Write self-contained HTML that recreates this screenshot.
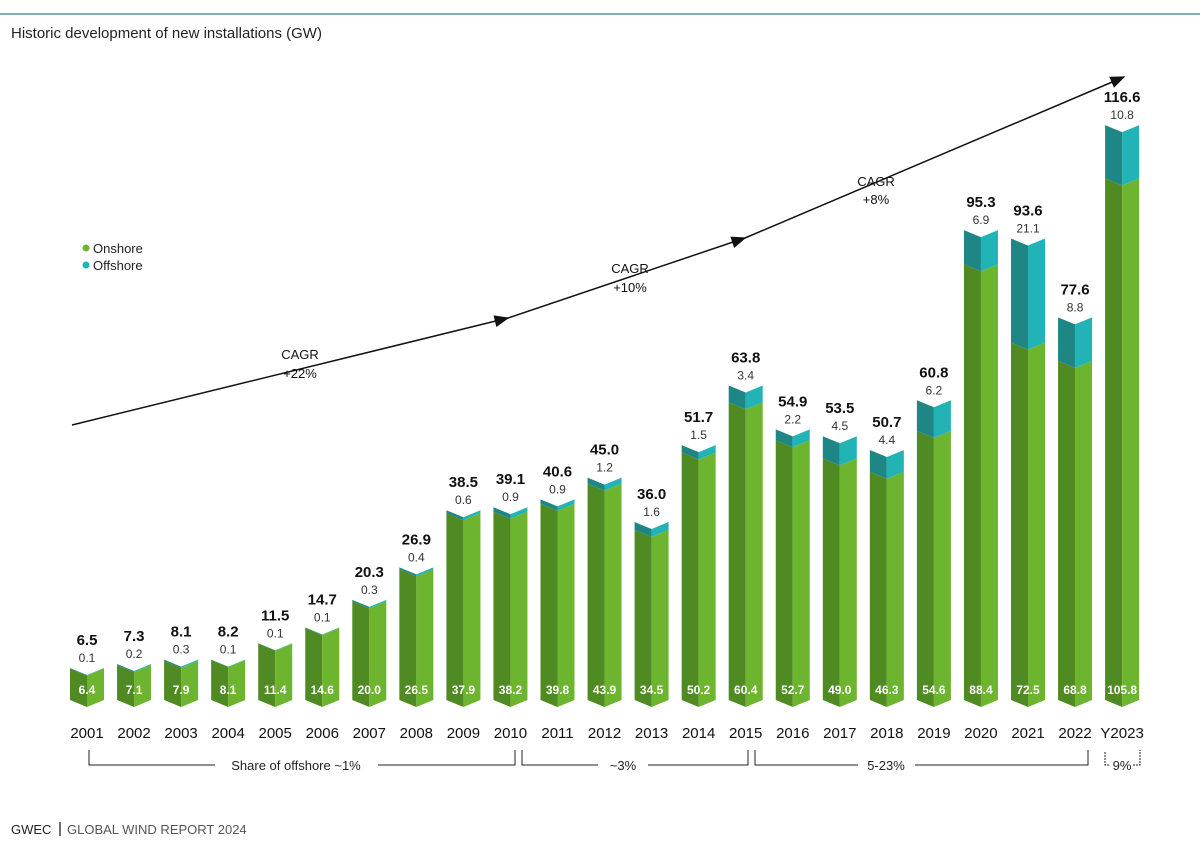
<!DOCTYPE html>
<html><head><meta charset="utf-8"><style>
body{margin:0;background:#fff;font-family:"Liberation Sans",sans-serif;}
svg text{font-family:"Liberation Sans",sans-serif;}
</style></head><body>
<svg width="1200" height="849" viewBox="0 0 1200 849">
<line x1="0" y1="14" x2="1200" y2="14" stroke="#3b7f86" stroke-width="1.2"/>
<text x="11" y="38" font-size="15" fill="#222">Historic development of new installations (GW)</text>
<g>
<circle cx="86" cy="248" r="3.5" fill="#6db42f"/>
<text x="93" y="253" font-size="13" fill="#222">Onshore</text>
<circle cx="86" cy="265" r="3.5" fill="#22b2b5"/>
<text x="93" y="270" font-size="13" fill="#222">Offshore</text>
</g>
<defs><marker id="ah" markerWidth="10" markerHeight="8" refX="9" refY="4" orient="auto"><path d="M0,0 L10,4 L0,8 z" fill="#111"/></marker></defs>
<g>
<line x1="72" y1="425" x2="508" y2="318" stroke="#111" stroke-width="1.5" marker-end="url(#ah)"/>
<line x1="508" y1="318" x2="745" y2="238" stroke="#111" stroke-width="1.5" marker-end="url(#ah)"/>
<line x1="745" y1="238" x2="1124" y2="77" stroke="#111" stroke-width="1.5" marker-end="url(#ah)"/>
<text x="300" y="359" font-size="13" text-anchor="middle" fill="#111">CAGR</text>
<text x="300" y="378" font-size="13" text-anchor="middle" fill="#111">+22%</text>
<text x="630" y="273" font-size="13" text-anchor="middle" fill="#111">CAGR</text>
<text x="630" y="292" font-size="13" text-anchor="middle" fill="#111">+10%</text>
<text x="876" y="186" font-size="13" text-anchor="middle" fill="#111">CAGR</text>
<text x="876" y="204" font-size="13" text-anchor="middle" fill="#111">+8%</text>
</g>
<g id="bars"></g>
<g stroke="#222" stroke-width="1" fill="none">
<path d="M89,750 V765 H215 M378,765 H515 V750"/>
<path d="M522,750 V765 H598 M648,765 H748 V750"/>
<path d="M755,750 V765 H858 M915,765 H1088 V750"/>
<path d="M1105,752 V765 H1110 M1133,765 H1140 V750" stroke-dasharray="2,1"/>
</g>
<text x="296" y="770" font-size="13" text-anchor="middle" fill="#222">Share of offshore ~1%</text>
<text x="623" y="770" font-size="13" text-anchor="middle" fill="#222">~3%</text>
<text x="886" y="770" font-size="13" text-anchor="middle" fill="#222">5-23%</text>
<text x="1122" y="770" font-size="13" text-anchor="middle" fill="#222">9%</text>
<text x="11" y="834" font-size="13" fill="#222">GWEC</text>
<line x1="60" y1="822" x2="60" y2="836" stroke="#222" stroke-width="1.3"/>
<text x="67" y="834" font-size="13" fill="#555">GLOBAL WIND REPORT 2024</text>
</svg>
<script>
const years=["2001","2002","2003","2004","2005","2006","2007","2008","2009","2010","2011","2012","2013","2014","2015","2016","2017","2018","2019","2020","2021","2022","Y2023"];
const onshore=[6.4,7.1,7.9,8.1,11.4,14.6,20.0,26.5,37.9,38.2,39.8,43.9,34.5,50.2,60.4,52.7,49.0,46.3,54.6,88.4,72.5,68.8,105.8];
const offshore=[0.1,0.2,0.3,0.1,0.1,0.1,0.3,0.4,0.6,0.9,0.9,1.2,1.6,1.5,3.4,2.2,4.5,4.4,6.2,6.9,21.1,8.8,10.8];
const totals=[6.5,7.3,8.1,8.2,11.5,14.7,20.3,26.9,38.5,39.1,40.6,45.0,36.0,51.7,63.8,54.9,53.5,50.7,60.8,95.3,93.6,77.6,116.6];
const NS="http://www.w3.org/2000/svg";
const base=700, scale=4.93, x0=87, step=47.05, hw=17, v=7;
const xPos=i=>x0+i*step;
const yPos=val=>base-val*scale;
const g=document.getElementById('bars');
function poly(pts,fill,name){
  const p=document.createElementNS(NS,'polygon');
  p.setAttribute('points',pts.map(a=>a.join(',')).join(' '));
  p.setAttribute('fill',fill);
  
  
  g.appendChild(p);
}
function txt(x,y,s,size,fill,weight,name){
  const t=document.createElementNS(NS,'text');
  t.setAttribute('x',x);t.setAttribute('y',y);
  t.setAttribute('font-size',size);t.setAttribute('fill',fill);
  t.setAttribute('text-anchor','middle');
  if(weight)t.setAttribute('font-weight',weight);
  t.textContent=s;
  
  
  g.appendChild(t);
}
years.forEach((yr,i)=>{
  const cx=xPos(i);
  const yOn=yPos(onshore[i]);
  const yTot=yPos(onshore[i]+offshore[i]);
  poly([[cx-hw,yOn],[cx,yOn+v],[cx,base+v],[cx-hw,base]],'#4f8a23','onshore-bar-left');
  poly([[cx,yOn+v],[cx+hw,yOn],[cx+hw,base],[cx,base+v]],'#6db42f','onshore-bar-right');
  poly([[cx-hw,yTot],[cx,yTot+v],[cx,yOn+v],[cx-hw,yOn]],'#1e8785','offshore-bar-left');
  poly([[cx,yTot+v],[cx+hw,yTot],[cx+hw,yOn],[cx,yOn+v]],'#22b3b6','offshore-bar-right');
  txt(cx,yTot-23,totals[i].toFixed(1),15,'#111','bold','total-label');
  txt(cx,yTot-6,offshore[i].toFixed(1),12,'#333',null,'offshore-label');
  txt(cx,694,onshore[i].toFixed(1),12,'#fff','bold','onshore-label');
  txt(cx,738,yr,15,'#111',null,'year-label');
});
</script>
</body></html>
